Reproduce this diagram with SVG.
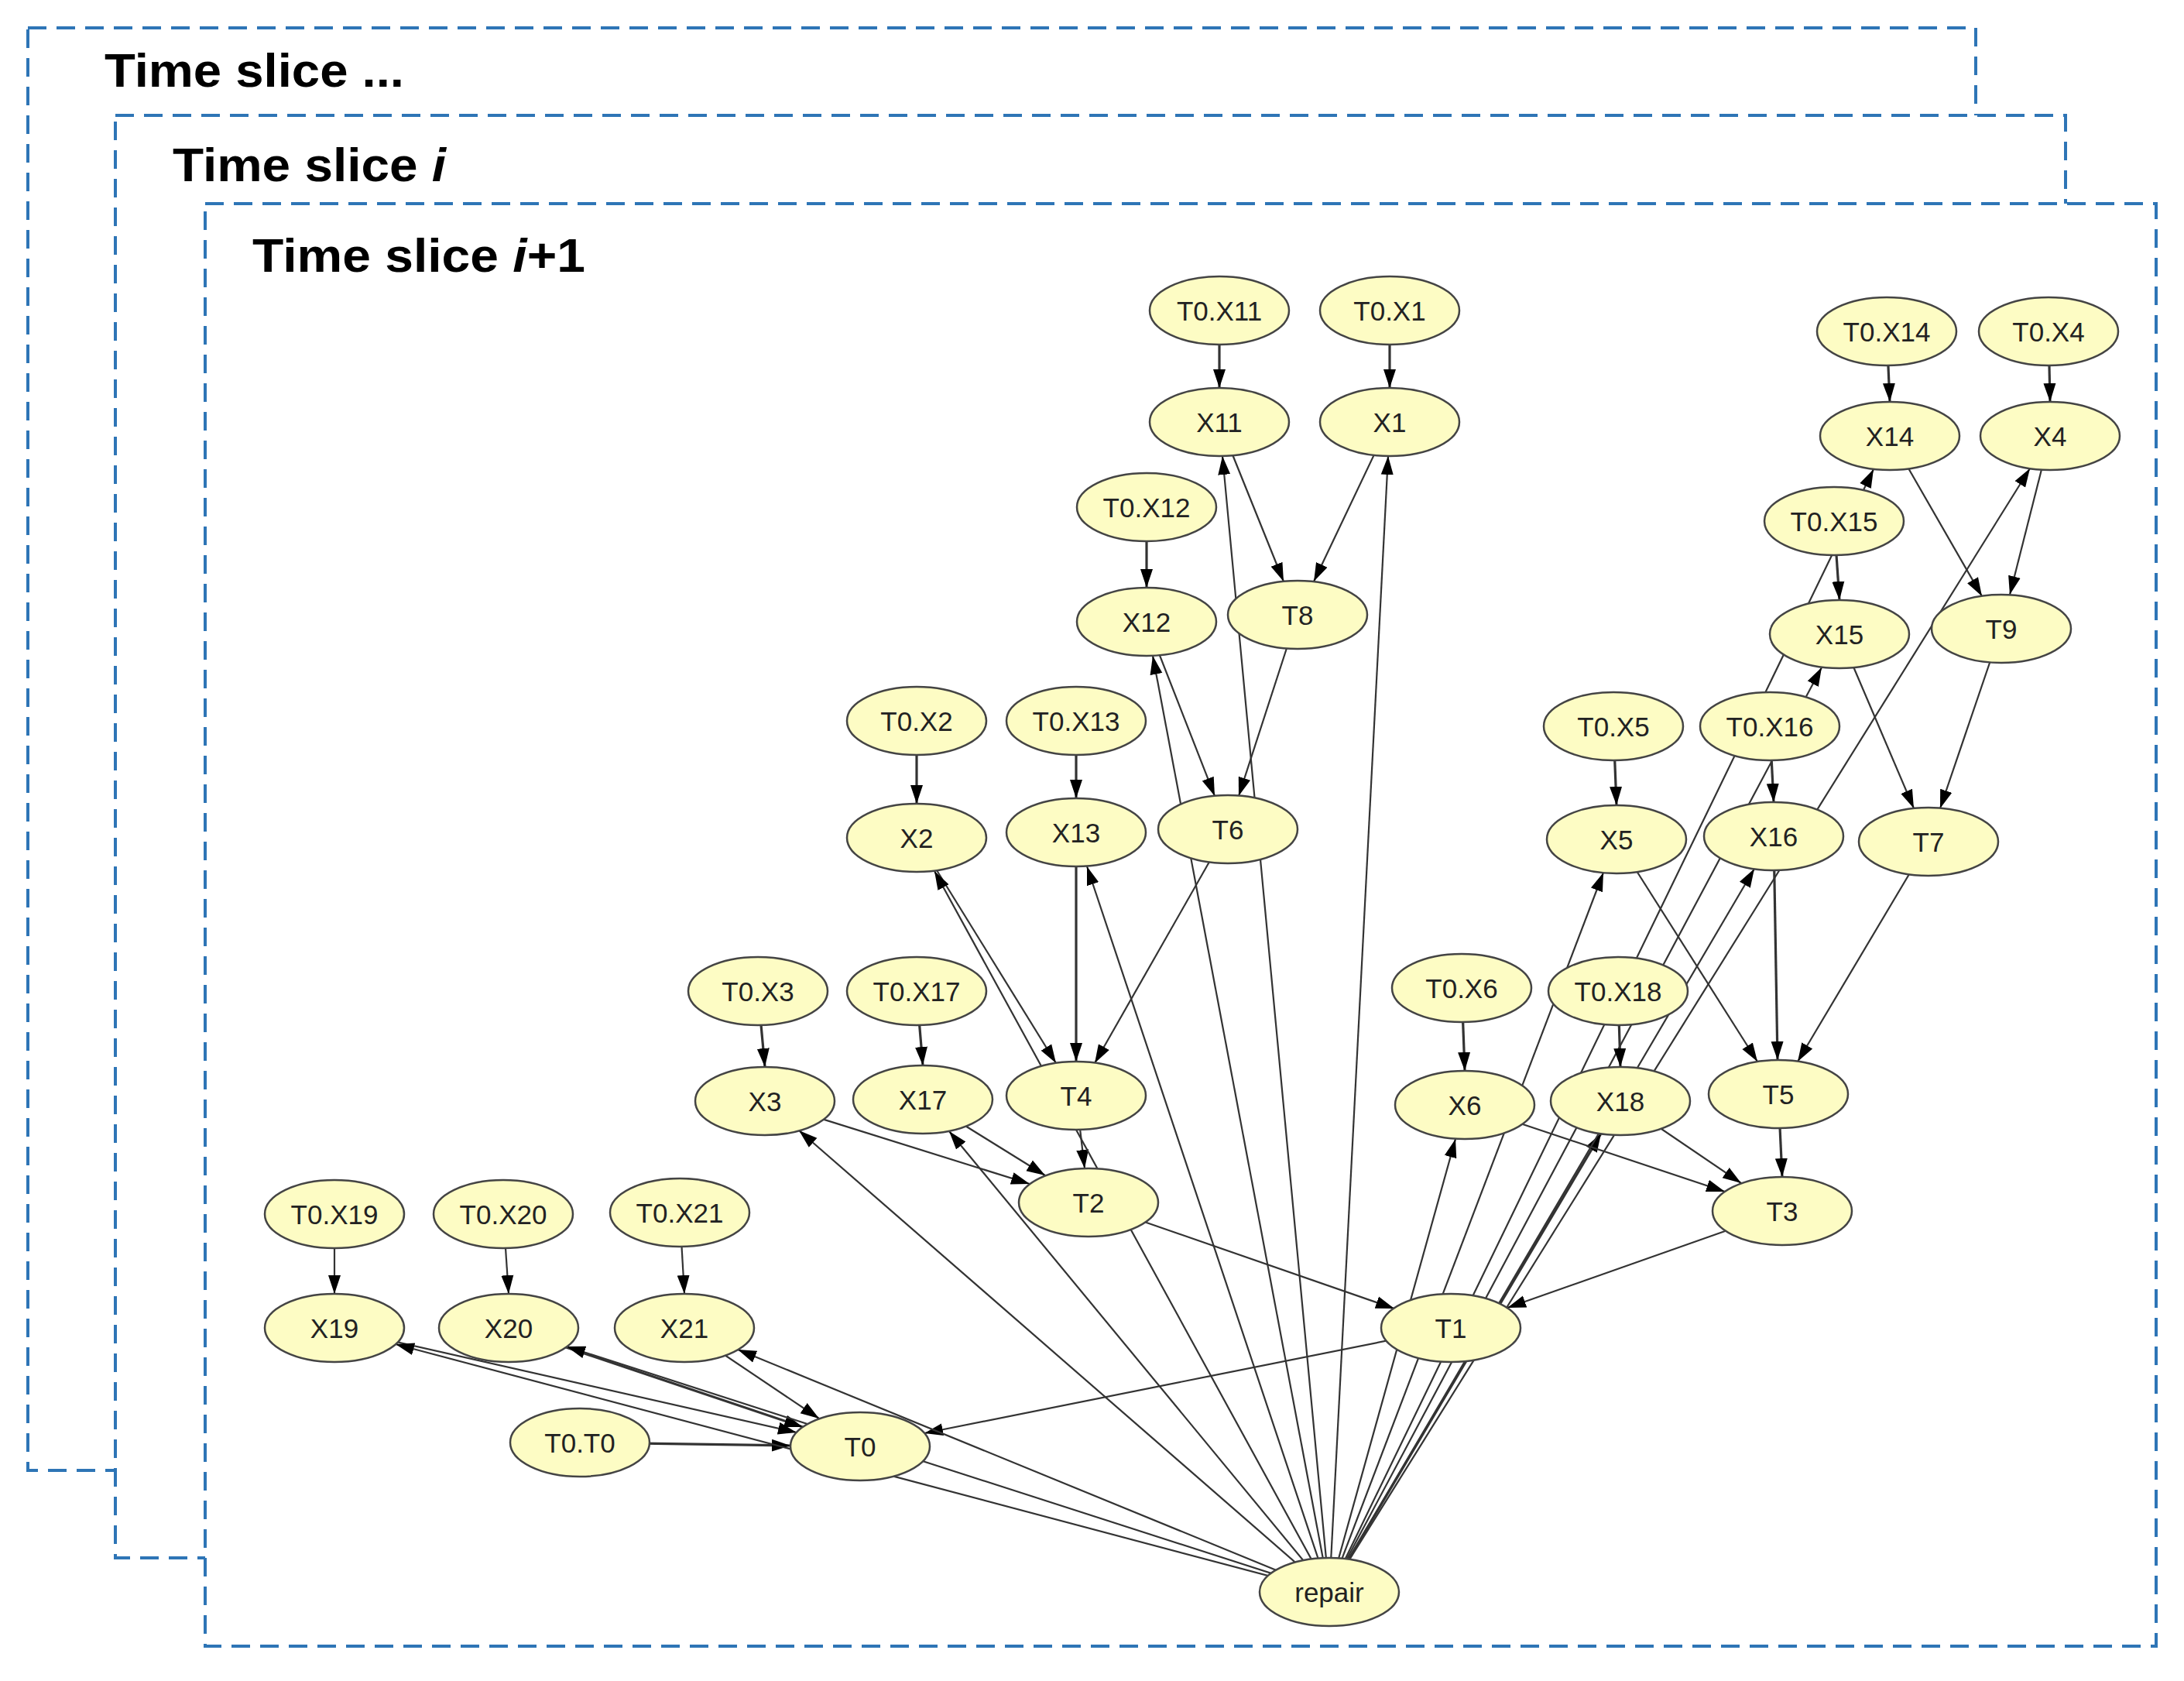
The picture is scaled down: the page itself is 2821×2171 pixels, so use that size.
<svg xmlns="http://www.w3.org/2000/svg" width="2821" height="2171" viewBox="0 0 2821 2171">
<style>
.frame{fill:#fff;stroke:#2e75b6;stroke-width:4;stroke-dasharray:24 13}
.title{font-family:"Liberation Sans",Arial,sans-serif;font-weight:bold;font-size:62px;fill:#000}
.n ellipse{fill:#fdfcc4;stroke:#444;stroke-width:2.5}
.n text{font-family:"Liberation Sans",Arial,sans-serif;font-size:35px;fill:#222;text-anchor:middle;dominant-baseline:central}
#edges line{stroke:#333;stroke-width:2.2;marker-end:url(#ah)}
#edges line.p{stroke-width:3.2}
</style>
<defs>
<marker id="ah" markerUnits="userSpaceOnUse" markerWidth="24" markerHeight="20" viewBox="0 0 24 20" refX="24" refY="10" orient="auto"><path d="M0,2 L24,10 L0,18 z" fill="#000"/></marker>
</defs>
<rect width="2821" height="2171" fill="#fff"/>
<g id="frames">
<rect class="frame" x="36" y="36" width="2516" height="1863"/>
<text class="title" x="135" y="112" textLength="387" lengthAdjust="spacingAndGlyphs">Time slice ...</text>
<rect class="frame" x="149" y="149" width="2519" height="1863"/>
<text class="title" x="223" y="234" textLength="353" lengthAdjust="spacingAndGlyphs">Time slice <tspan font-style="italic">i</tspan></text>
<rect class="frame" x="265" y="263" width="2520" height="1863"/>
<text class="title" x="326" y="351" textLength="430" lengthAdjust="spacingAndGlyphs">Time slice <tspan font-style="italic">i</tspan>+1</text>
</g>
<g id="edges">
<line class="p" x1="1575" y1="401" x2="1575" y2="501"/>
<line class="p" x1="1795" y1="401" x2="1795" y2="501"/>
<line class="p" x1="1481" y1="655" x2="1481" y2="759"/>
<line x1="1575" y1="545" x2="1658" y2="751"/>
<line x1="1795" y1="545" x2="1697" y2="751"/>
<line x1="1481" y1="803" x2="1569" y2="1028"/>
<line x1="1676" y1="794" x2="1600" y2="1028"/>
<line class="p" x1="1184" y1="931" x2="1184" y2="1038"/>
<line class="p" x1="1390" y1="931" x2="1390" y2="1031"/>
<line class="p" x1="1390" y1="1075" x2="1390" y2="1371"/>
<line x1="1184" y1="1082" x2="1364" y2="1373"/>
<line x1="1586" y1="1071" x2="1414" y2="1373"/>
<line x1="1390" y1="1415" x2="1401" y2="1509"/>
<line x1="988" y1="1422" x2="1330" y2="1529"/>
<line x1="1192" y1="1420" x2="1350" y2="1518"/>
<line class="p" x1="979" y1="1280" x2="988" y2="1378"/>
<line class="p" x1="1184" y1="1280" x2="1192" y2="1376"/>
<line x1="1406" y1="1553" x2="1801" y2="1690"/>
<line x1="2302" y1="1564" x2="1947" y2="1689"/>
<line x1="1874" y1="1715" x2="1194" y2="1851"/>
<line class="p" x1="749" y1="1863" x2="1021" y2="1867"/>
<line x1="432" y1="1715" x2="1029" y2="1850"/>
<line class="p" x1="657" y1="1715" x2="1037" y2="1843"/>
<line x1="884" y1="1715" x2="1058" y2="1832"/>
<line x1="432" y1="1568" x2="432" y2="1671"/>
<line x1="650" y1="1568" x2="657" y2="1671"/>
<line x1="878" y1="1566" x2="884" y2="1671"/>
<line x1="1717" y1="2056" x2="511" y2="1736"/>
<line x1="1717" y1="2056" x2="732" y2="1739"/>
<line x1="1717" y1="2056" x2="953" y2="1743"/>
<line x1="1717" y1="2056" x2="1032" y2="1460"/>
<line x1="1717" y1="2056" x2="1226" y2="1461"/>
<line x1="1717" y1="2056" x2="1207" y2="1125"/>
<line x1="1717" y1="2056" x2="1404" y2="1119"/>
<line x1="1717" y1="2056" x2="1489" y2="847"/>
<line x1="1717" y1="2056" x2="1579" y2="589"/>
<line x1="1717" y1="2056" x2="1793" y2="589"/>
<line x1="1717" y1="2056" x2="1880" y2="1471"/>
<line x1="1717" y1="2056" x2="2071" y2="1127"/>
<line class="p" x1="1717" y1="2056" x2="2068" y2="1464"/>
<line x1="1717" y1="2056" x2="2266" y2="1122"/>
<line x1="1717" y1="2056" x2="2622" y2="605"/>
<line x1="1717" y1="2056" x2="2353" y2="862"/>
<line x1="1717" y1="2056" x2="2420" y2="606"/>
<line x1="2441" y1="563" x2="2560" y2="770"/>
<line x1="2648" y1="563" x2="2596" y2="768"/>
<line class="p" x1="2437" y1="428" x2="2441" y2="519"/>
<line class="p" x1="2646" y1="428" x2="2648" y2="519"/>
<line class="p" x1="2369" y1="673" x2="2376" y2="775"/>
<line x1="2376" y1="819" x2="2472" y2="1044"/>
<line x1="2585" y1="812" x2="2506" y2="1044"/>
<line class="p" x1="2084" y1="938" x2="2088" y2="1040"/>
<line class="p" x1="2286" y1="938" x2="2291" y2="1036"/>
<line x1="2088" y1="1084" x2="2270" y2="1371"/>
<line class="p" x1="2291" y1="1080" x2="2296" y2="1369"/>
<line x1="2491" y1="1087" x2="2322" y2="1371"/>
<line class="p" x1="1888" y1="1276" x2="1892" y2="1383"/>
<line class="p" x1="2090" y1="1280" x2="2093" y2="1378"/>
<line class="p" x1="2297" y1="1413" x2="2302" y2="1520"/>
<line x1="1892" y1="1427" x2="2228" y2="1539"/>
<line x1="2093" y1="1422" x2="2249" y2="1528"/>
</g>
<g id="nodes">
<g class="n" id="T0.X11"><ellipse cx="1575" cy="401" rx="90" ry="44"/><text x="1575" y="401">T0.X11</text></g>
<g class="n" id="T0.X1"><ellipse cx="1795" cy="401" rx="90" ry="44"/><text x="1795" y="401">T0.X1</text></g>
<g class="n" id="X11"><ellipse cx="1575" cy="545" rx="90" ry="44"/><text x="1575" y="545">X11</text></g>
<g class="n" id="X1"><ellipse cx="1795" cy="545" rx="90" ry="44"/><text x="1795" y="545">X1</text></g>
<g class="n" id="T0.X12"><ellipse cx="1481" cy="655" rx="90" ry="44"/><text x="1481" y="655">T0.X12</text></g>
<g class="n" id="X12"><ellipse cx="1481" cy="803" rx="90" ry="44"/><text x="1481" y="803">X12</text></g>
<g class="n" id="T8"><ellipse cx="1676" cy="794" rx="90" ry="44"/><text x="1676" y="794">T8</text></g>
<g class="n" id="T0.X14"><ellipse cx="2437" cy="428" rx="90" ry="44"/><text x="2437" y="428">T0.X14</text></g>
<g class="n" id="T0.X4"><ellipse cx="2646" cy="428" rx="90" ry="44"/><text x="2646" y="428">T0.X4</text></g>
<g class="n" id="X14"><ellipse cx="2441" cy="563" rx="90" ry="44"/><text x="2441" y="563">X14</text></g>
<g class="n" id="X4"><ellipse cx="2648" cy="563" rx="90" ry="44"/><text x="2648" y="563">X4</text></g>
<g class="n" id="T0.X15"><ellipse cx="2369" cy="673" rx="90" ry="44"/><text x="2369" y="673">T0.X15</text></g>
<g class="n" id="X15"><ellipse cx="2376" cy="819" rx="90" ry="44"/><text x="2376" y="819">X15</text></g>
<g class="n" id="T9"><ellipse cx="2585" cy="812" rx="90" ry="44"/><text x="2585" y="812">T9</text></g>
<g class="n" id="T0.X2"><ellipse cx="1184" cy="931" rx="90" ry="44"/><text x="1184" y="931">T0.X2</text></g>
<g class="n" id="T0.X13"><ellipse cx="1390" cy="931" rx="90" ry="44"/><text x="1390" y="931">T0.X13</text></g>
<g class="n" id="X2"><ellipse cx="1184" cy="1082" rx="90" ry="44"/><text x="1184" y="1082">X2</text></g>
<g class="n" id="X13"><ellipse cx="1390" cy="1075" rx="90" ry="44"/><text x="1390" y="1075">X13</text></g>
<g class="n" id="T6"><ellipse cx="1586" cy="1071" rx="90" ry="44"/><text x="1586" y="1071">T6</text></g>
<g class="n" id="T0.X5"><ellipse cx="2084" cy="938" rx="90" ry="44"/><text x="2084" y="938">T0.X5</text></g>
<g class="n" id="T0.X16"><ellipse cx="2286" cy="938" rx="90" ry="44"/><text x="2286" y="938">T0.X16</text></g>
<g class="n" id="X5"><ellipse cx="2088" cy="1084" rx="90" ry="44"/><text x="2088" y="1084">X5</text></g>
<g class="n" id="X16"><ellipse cx="2291" cy="1080" rx="90" ry="44"/><text x="2291" y="1080">X16</text></g>
<g class="n" id="T7"><ellipse cx="2491" cy="1087" rx="90" ry="44"/><text x="2491" y="1087">T7</text></g>
<g class="n" id="T0.X3"><ellipse cx="979" cy="1280" rx="90" ry="44"/><text x="979" y="1280">T0.X3</text></g>
<g class="n" id="T0.X17"><ellipse cx="1184" cy="1280" rx="90" ry="44"/><text x="1184" y="1280">T0.X17</text></g>
<g class="n" id="X3"><ellipse cx="988" cy="1422" rx="90" ry="44"/><text x="988" y="1422">X3</text></g>
<g class="n" id="X17"><ellipse cx="1192" cy="1420" rx="90" ry="44"/><text x="1192" y="1420">X17</text></g>
<g class="n" id="T4"><ellipse cx="1390" cy="1415" rx="90" ry="44"/><text x="1390" y="1415">T4</text></g>
<g class="n" id="T0.X6"><ellipse cx="1888" cy="1276" rx="90" ry="44"/><text x="1888" y="1276">T0.X6</text></g>
<g class="n" id="T0.X18"><ellipse cx="2090" cy="1280" rx="90" ry="44"/><text x="2090" y="1280">T0.X18</text></g>
<g class="n" id="X6"><ellipse cx="1892" cy="1427" rx="90" ry="44"/><text x="1892" y="1427">X6</text></g>
<g class="n" id="X18"><ellipse cx="2093" cy="1422" rx="90" ry="44"/><text x="2093" y="1422">X18</text></g>
<g class="n" id="T5"><ellipse cx="2297" cy="1413" rx="90" ry="44"/><text x="2297" y="1413">T5</text></g>
<g class="n" id="T2"><ellipse cx="1406" cy="1553" rx="90" ry="44"/><text x="1406" y="1553">T2</text></g>
<g class="n" id="T3"><ellipse cx="2302" cy="1564" rx="90" ry="44"/><text x="2302" y="1564">T3</text></g>
<g class="n" id="T0.X19"><ellipse cx="432" cy="1568" rx="90" ry="44"/><text x="432" y="1568">T0.X19</text></g>
<g class="n" id="T0.X20"><ellipse cx="650" cy="1568" rx="90" ry="44"/><text x="650" y="1568">T0.X20</text></g>
<g class="n" id="T0.X21"><ellipse cx="878" cy="1566" rx="90" ry="44"/><text x="878" y="1566">T0.X21</text></g>
<g class="n" id="X19"><ellipse cx="432" cy="1715" rx="90" ry="44"/><text x="432" y="1715">X19</text></g>
<g class="n" id="X20"><ellipse cx="657" cy="1715" rx="90" ry="44"/><text x="657" y="1715">X20</text></g>
<g class="n" id="X21"><ellipse cx="884" cy="1715" rx="90" ry="44"/><text x="884" y="1715">X21</text></g>
<g class="n" id="T1"><ellipse cx="1874" cy="1715" rx="90" ry="44"/><text x="1874" y="1715">T1</text></g>
<g class="n" id="T0.T0"><ellipse cx="749" cy="1863" rx="90" ry="44"/><text x="749" y="1863">T0.T0</text></g>
<g class="n" id="T0"><ellipse cx="1111" cy="1868" rx="90" ry="44"/><text x="1111" y="1868">T0</text></g>
<g class="n" id="repair"><ellipse cx="1717" cy="2056" rx="90" ry="44"/><text x="1717" y="2056">repair</text></g>
</g>
</svg>
